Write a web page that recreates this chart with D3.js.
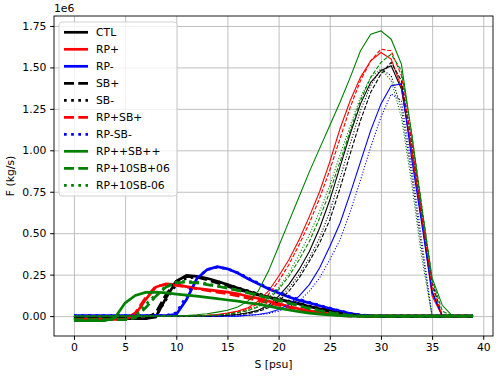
<!DOCTYPE html>
<html>
<head>
<meta charset="utf-8">
<script src="https://cdn.jsdelivr.net/npm/d3@7"></script>
<style>
  body { margin: 0; background: #fff; }
  text { font-family: "DejaVu Sans", sans-serif; }
</style>
</head>
<body>
<div id="chart"></div>
<script>
'use strict';

// salinity bins (psu)
const salinity = [0,1,2,3,4,5,6,7,8,9,10,11,12,13,14,15,16,17,18,19,
                  20,21,22,23,24,25,26,27,28,29,30,31,32,33,34,35,36,37,38,39];

const yTicks = [0, 0.25, 0.5, 0.75, 1.0, 1.25, 1.5, 1.75];
const xTicks = [0, 5, 10, 15, 20, 25, 30, 35, 40];

// thin curves (x 1e6 kg/s)
const ctlThin = [0,0,0,0,0,0,0,0,0,0,
  0,0,0,0,0,0.005,0.01,0.02,0.035,0.065,
  0.12,0.19,0.28,0.39,0.53,0.70,0.90,1.10,1.28,1.41,
  1.48,1.51,1.37,1.00,0.58,0.15,0,0,0,0];
const rpPlusThin = [0,0,0,0,0,0,0,0,0,0,
  0,0,0.002,0.005,0.01,0.018,0.03,0.05,0.09,0.15,
  0.24,0.34,0.46,0.60,0.75,0.93,1.13,1.30,1.44,1.54,
  1.59,1.55,1.38,1.00,0.58,0.12,0,0,0,0];
const rpMinusThin = [0,0,0,0,0,0,0,0,0,0,
  0,0,0,0,0,0,0,0.005,0.01,0.02,
  0.04,0.07,0.12,0.19,0.29,0.42,0.56,0.74,0.93,1.12,
  1.28,1.39,1.40,0.95,0.55,0.14,0,0,0,0];
const sbPlusThin = [0,0,0,0,0,0,0,0,0,0,
  0,0,0,0,0,0.004,0.008,0.015,0.028,0.05,
  0.09,0.15,0.23,0.33,0.44,0.58,0.77,0.98,1.18,1.35,
  1.46,1.53,1.42,1.05,0.62,0.20,0,0,0,0];
const sbMinusThin = [0,0,0,0,0,0,0,0,0,0,
  0,0,0,0,0,0.005,0.01,0.02,0.033,0.058,
  0.10,0.17,0.25,0.35,0.47,0.63,0.83,1.04,1.24,1.39,
  1.49,1.45,1.25,0.85,0.40,0,0,0,0,0];
const rpSbPlusThin = [0,0,0,0,0,0,0,0,0,0,
  0,0,0.002,0.004,0.008,0.015,0.025,0.042,0.075,0.13,
  0.21,0.31,0.43,0.56,0.71,0.88,1.07,1.26,1.42,1.54,
  1.61,1.60,1.45,1.05,0.62,0.18,0,0,0,0];
const rpSbMinusThin = [0,0,0,0,0,0,0,0,0,0,
  0,0,0,0,0,0,0,0.004,0.008,0.015,
  0.03,0.055,0.09,0.15,0.23,0.34,0.46,0.63,0.82,1.02,
  1.20,1.34,1.30,0.90,0.45,0,0,0,0,0];
const rpppThin = [0,0,0,0,0,0,0,0,0,0,
  0.002,0.004,0.008,0.014,0.024,0.035,0.055,0.09,0.15,0.27,
  0.42,0.57,0.72,0.87,1.01,1.15,1.29,1.44,1.60,1.70,
  1.72,1.67,1.52,1.10,0.65,0.23,0.065,0,0,0];
const rp10PlusThin = [0,0,0,0,0,0,0,0,0,0,
  0,0,0,0.003,0.006,0.012,0.02,0.033,0.055,0.10,
  0.16,0.24,0.34,0.45,0.59,0.75,0.93,1.12,1.30,1.44,
  1.53,1.58,1.48,1.10,0.66,0.22,0.03,0,0,0];
const rp10MinusThin = [0,0,0,0,0,0,0,0,0,0,
  0,0,0,0.003,0.006,0.012,0.02,0.035,0.06,0.11,
  0.17,0.26,0.37,0.49,0.63,0.79,0.97,1.15,1.32,1.44,
  1.49,1.42,1.20,0.80,0.35,0,0,0,0,0];

// thick curves (x 1e6 kg/s)
const ctlThick = [-0.015,-0.015,-0.015,-0.015,-0.015,-0.015,-0.015,-0.015,-0.005,0.11,
  0.21,0.245,0.24,0.228,0.21,0.19,0.17,0.15,0.13,0.115,
  0.10,0.088,0.075,0.058,0.044,0.03,0.02,0.01,0.004,0,
  0,0,0,0,0,0,0,0,0,0];
const rpPlusThick = [-0.02,-0.02,-0.02,-0.02,-0.02,-0.02,0.01,0.10,0.175,0.195,
  0.19,0.178,0.168,0.16,0.152,0.145,0.135,0.12,0.107,0.09,
  0.075,0.058,0.044,0.032,0.022,0.014,0.007,0.003,0,0,
  0,0,0,0,0,0,0,0,0,0];
const rpMinusThick = [0.003,0.003,0.003,0.003,0.003,0.003,0.003,0.003,0.003,0.003,
  0.01,0.10,0.225,0.28,0.298,0.285,0.26,0.225,0.195,0.165,
  0.14,0.115,0.095,0.08,0.062,0.045,0.03,0.015,0.006,0.002,
  0,0,0,0,0,0,0,0,0,0];
const sbPlusThick = [-0.015,-0.015,-0.015,-0.015,-0.015,-0.015,-0.015,-0.015,0.02,0.13,
  0.21,0.24,0.235,0.22,0.20,0.18,0.16,0.145,0.128,0.113,
  0.10,0.087,0.073,0.058,0.044,0.03,0.018,0.008,0.003,0,
  0,0,0,0,0,0,0,0,0,0];
const sbMinusThick = [-0.012,-0.012,-0.012,-0.012,-0.012,-0.012,-0.012,-0.012,0,0.10,
  0.19,0.23,0.235,0.225,0.21,0.19,0.17,0.152,0.135,0.118,
  0.103,0.09,0.076,0.06,0.046,0.032,0.02,0.01,0.004,0,
  0,0,0,0,0,0,0,0,0,0];
const rpSbPlusThick = [-0.02,-0.02,-0.02,-0.02,-0.02,-0.02,0.02,0.11,0.18,0.19,
  0.185,0.175,0.165,0.155,0.145,0.135,0.122,0.108,0.094,0.08,
  0.066,0.052,0.04,0.028,0.018,0.01,0.004,0,0,0,
  0,0,0,0,0,0,0,0,0,0];
const rpSbMinusThick = [0.003,0.003,0.003,0.003,0.003,0.003,0.003,0.003,0.003,0.003,
  0.02,0.12,0.23,0.28,0.295,0.285,0.262,0.23,0.20,0.17,
  0.145,0.12,0.10,0.083,0.065,0.048,0.032,0.017,0.007,0.002,
  0,0,0,0,0,0,0,0,0,0];
const rpppThick = [-0.028,-0.028,-0.028,-0.028,-0.01,0.08,0.125,0.143,0.145,0.14,
  0.133,0.127,0.12,0.113,0.105,0.097,0.09,0.08,0.072,0.06,
  0.048,0.037,0.027,0.018,0.012,0.007,0.003,0,0,0,
  0,0,0,0,0,0,0,0,0,0];
const rp10PlusThick = [-0.022,-0.022,-0.022,-0.022,-0.022,-0.022,-0.01,0.05,0.12,0.175,
  0.20,0.205,0.20,0.19,0.18,0.168,0.155,0.14,0.125,0.11,
  0.095,0.078,0.062,0.045,0.032,0.02,0.01,0.004,0,0,
  0,0,0,0,0,0,0,0,0,0];
const rp10MinusThick = [-0.018,-0.018,-0.018,-0.018,-0.018,-0.018,0,0.07,0.13,0.18,
  0.205,0.21,0.205,0.195,0.183,0.17,0.157,0.142,0.127,0.112,
  0.097,0.08,0.064,0.048,0.034,0.022,0.012,0.005,0,0,
  0,0,0,0,0,0,0,0,0,0];

const runNames = ['CTL', 'RP+', 'RP-', 'SB+', 'SB-', 'RP+SB+', 'RP-SB-', 'RP++SB++', 'RP+10SB+06', 'RP+10SB-06'];
const runColors = ['#000000', '#ff0000', '#0000ff', '#000000', '#000000', '#ff0000', '#0000ff', '#008000', '#008000', '#008000'];
const runStyles = ['solid', 'solid', 'solid', 'dashed', 'dotted', 'dashed', 'dotted', 'solid', 'dashed', 'dotted'];
const thinSeries = [ctlThin, rpPlusThin, rpMinusThin, sbPlusThin, sbMinusThin, rpSbPlusThin, rpSbMinusThin, rpppThin, rp10PlusThin, rp10MinusThin];
const thickSeries = [ctlThick, rpPlusThick, rpMinusThick, sbPlusThick, sbMinusThick, rpSbPlusThick, rpSbMinusThick, rpppThick, rp10PlusThick, rp10MinusThick];

let width = 500,
    height = 376,
    margin = {top: 16, right: 7, bottom: 40, left: 54};

let svg = d3.select('#chart')
  .append('svg')
    .attr('width', width)
    .attr('height', height);

let x = d3.scaleLinear()
  .domain([-1.95, 40.95])
  .range([margin.left, width - margin.right]);

let y = d3.scaleLinear()
  .domain([-0.12, 1.81])
  .range([height - margin.bottom, margin.top]);

// grid
svg.append('g')
  .attr('transform', 'translate(0,' + (height - margin.bottom) + ')')
  .call(d3.axisBottom(x).tickValues(xTicks).tickSize(-(height - margin.top - margin.bottom)).tickFormat(''))
  .call(g => g.select('.domain').remove())
  .call(g => g.selectAll('line').attr('stroke', '#b0b0b0').attr('stroke-width', 0.8));

svg.append('g')
  .attr('transform', 'translate(' + margin.left + ',0)')
  .call(d3.axisLeft(y).tickValues(yTicks).tickSize(-(width - margin.left - margin.right)).tickFormat(''))
  .call(g => g.select('.domain').remove())
  .call(g => g.selectAll('line').attr('stroke', '#b0b0b0').attr('stroke-width', 0.8));

function dashFor(style, lw) {
  if (style === 'dashed') return (3.7 * lw) + ',' + (1.6 * lw);
  if (style === 'dotted') return (1 * lw) + ',' + (1.65 * lw);
  return null;
}

let line = d3.line()
  .x((d, i) => x(salinity[i]))
  .y(d => y(d));

let plot = svg.append('g');

runNames.map((name, i) => {
  plot.append('path')
    .attr('d', line(thinSeries[i]))
    .attr('fill', 'none')
    .attr('stroke', runColors[i])
    .attr('stroke-width', 1.1)
    .attr('stroke-dasharray', dashFor(runStyles[i], 1.1));

  plot.append('path')
    .attr('d', line(thickSeries[i]))
    .attr('fill', 'none')
    .attr('stroke', runColors[i])
    .attr('stroke-width', 2.7)
    .attr('stroke-dasharray', dashFor(runStyles[i], 2.7));
});

// axes frame
svg.append('rect')
  .attr('x', margin.left)
  .attr('y', margin.top)
  .attr('width', width - margin.left - margin.right)
  .attr('height', height - margin.top - margin.bottom)
  .attr('fill', 'none')
  .attr('stroke', '#000')
  .attr('stroke-width', 0.9);

let xAxis = svg.append('g')
  .attr('transform', 'translate(0,' + (height - margin.bottom) + ')')
  .call(d3.axisBottom(x).tickValues(xTicks).tickSize(3.8).tickPadding(3.8).tickFormat(d3.format('d')));
xAxis.select('.domain').remove();
xAxis.selectAll('text').attr('font-size', '10.8px').attr('fill', '#000');

let yAxis = svg.append('g')
  .attr('transform', 'translate(' + margin.left + ',0)')
  .call(d3.axisLeft(y).tickValues(yTicks).tickSize(3.8).tickPadding(3.8).tickFormat(d3.format('.2f')));
yAxis.select('.domain').remove();
yAxis.selectAll('text').attr('font-size', '10.8px').attr('fill', '#000');

svg.append('text')
  .attr('x', margin.left)
  .attr('y', margin.top - 4)
  .attr('font-size', '10.8px')
  .text('1e6');

svg.append('text')
  .attr('x', (margin.left + width - margin.right) / 2)
  .attr('y', 368)
  .attr('text-anchor', 'middle')
  .attr('font-size', '10.8px')
  .text('S [psu]');

svg.append('text')
  .attr('transform', 'translate(14,' + ((margin.top + height - margin.bottom) / 2) + ') rotate(-90)')
  .attr('text-anchor', 'middle')
  .attr('font-size', '10.8px')
  .text('F (kg/s)');

// legend
let legend = svg.append('g');

legend.append('rect')
  .attr('x', 59)
  .attr('y', 22)
  .attr('width', 118)
  .attr('height', 174)
  .attr('rx', 3)
  .attr('fill', '#fff')
  .attr('fill-opacity', 0.8)
  .attr('stroke', '#cccccc')
  .attr('stroke-width', 0.9);

runNames.map((name, i) => {
  let ly = 32.3 + i * 17;
  legend.append('line')
    .attr('x1', 64)
    .attr('x2', 88)
    .attr('y1', ly)
    .attr('y2', ly)
    .attr('stroke', runColors[i])
    .attr('stroke-width', 2.7)
    .attr('stroke-dasharray', dashFor(runStyles[i], 2.7));
  legend.append('text')
    .attr('x', 96)
    .attr('y', ly)
    .attr('dy', '0.35em')
    .attr('font-size', '10.8px')
    .text(name);
});
</script>
</body>
</html>
